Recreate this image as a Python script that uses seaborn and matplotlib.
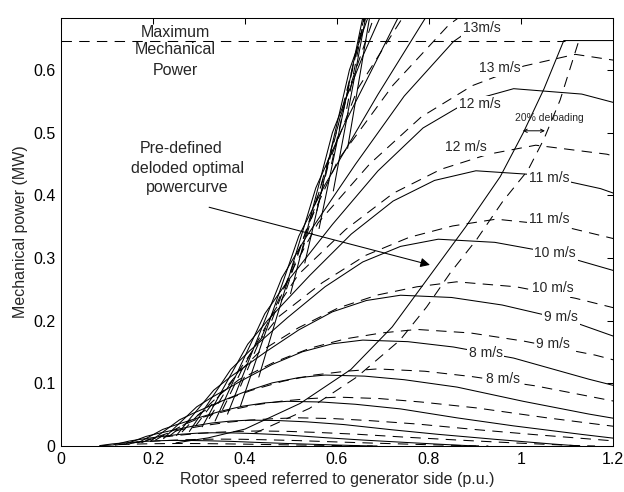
import matplotlib
matplotlib.use("Agg")
import matplotlib.pyplot as plt
import numpy as np
import pandas as pd
import seaborn as sns

# ---------------- data ----------------
# solid curves (wind speed in m/s)
s3_x = [0.084, 0.094, 0.111, 0.123, 0.148, 0.172, 0.197, 0.221, 0.246, 0.283, 0.320, 0.369, 0.431, 0.492, 0.566, 0.640, 0.677]
s3_y = [0.0006, 0.0016, 0.0033, 0.0041, 0.0055, 0.0069, 0.0079, 0.0086, 0.0089, 0.0088, 0.0083, 0.0074, 0.0056, 0.0040, 0.0023, 0.0007, 0.0]
s4_x = [0.112, 0.125, 0.148, 0.164, 0.197, 0.230, 0.262, 0.295, 0.328, 0.377, 0.426, 0.492, 0.574, 0.656, 0.754, 0.853, 0.902]
s4_y = [0.0015, 0.0038, 0.0078, 0.0097, 0.0131, 0.0163, 0.0188, 0.0204, 0.0211, 0.0208, 0.0197, 0.0175, 0.0133, 0.0095, 0.0055, 0.0017, 0.0]
s5_x = [0.139, 0.156, 0.185, 0.205, 0.246, 0.287, 0.328, 0.369, 0.410, 0.472, 0.533, 0.615, 0.718, 0.820, 0.943, 1.066, 1.128]
s5_y = [0.0029, 0.0074, 0.0153, 0.0190, 0.0256, 0.0318, 0.0367, 0.0398, 0.0413, 0.0406, 0.0386, 0.0342, 0.0260, 0.0186, 0.0107, 0.0033, 0.0]
s6_x = [0.167, 0.187, 0.221, 0.246, 0.295, 0.344, 0.394, 0.443, 0.492, 0.566, 0.640, 0.738, 0.861, 0.984, 1.132, 1.279]
s6_y = [0.0050, 0.0128, 0.0264, 0.0328, 0.0442, 0.0549, 0.0634, 0.0688, 0.0713, 0.0702, 0.0666, 0.0592, 0.0449, 0.0321, 0.0185, 0.0057]
s7_x = [0.195, 0.218, 0.258, 0.287, 0.344, 0.402, 0.459, 0.517, 0.574, 0.660, 0.746, 0.861, 1.005, 1.148, 1.320]
s7_y = [0.0079, 0.0204, 0.0419, 0.0521, 0.0702, 0.0872, 0.1007, 0.1092, 0.1132, 0.1115, 0.1058, 0.0940, 0.0713, 0.0509, 0.0294]
s8_x = [0.223, 0.249, 0.295, 0.328, 0.394, 0.459, 0.525, 0.590, 0.656, 0.754, 0.853, 0.984, 1.148, 1.312]
s8_y = [0.0118, 0.0304, 0.0625, 0.0777, 0.1048, 0.1301, 0.1504, 0.1631, 0.1690, 0.1665, 0.1580, 0.1403, 0.1065, 0.0761]
s9_x = [0.251, 0.280, 0.332, 0.369, 0.443, 0.517, 0.590, 0.664, 0.738, 0.849, 0.959, 1.107, 1.292]
s9_y = [0.0168, 0.0433, 0.0890, 0.1107, 0.1492, 0.1853, 0.2141, 0.2322, 0.2406, 0.2370, 0.2250, 0.1997, 0.1516]
s10_x = [0.279, 0.312, 0.369, 0.410, 0.492, 0.574, 0.656, 0.738, 0.820, 0.943, 1.066, 1.230]
s10_y = [0.0231, 0.0594, 0.1221, 0.1518, 0.2046, 0.2541, 0.2937, 0.3185, 0.3300, 0.3250, 0.3086, 0.2739]
s11_x = [0.307, 0.343, 0.406, 0.451, 0.541, 0.631, 0.722, 0.812, 0.902, 1.037, 1.173, 1.353]
s11_y = [0.0307, 0.0791, 0.1625, 0.2020, 0.2723, 0.3382, 0.3909, 0.4238, 0.4392, 0.4326, 0.4107, 0.3645]
s12_x = [0.335, 0.374, 0.443, 0.492, 0.590, 0.689, 0.787, 0.886, 0.984, 1.132, 1.279]
s12_y = [0.0399, 0.1026, 0.2110, 0.2623, 0.3535, 0.4390, 0.5075, 0.5502, 0.5702, 0.5616, 0.5331]
s13_x = [0.362, 0.405, 0.480, 0.533, 0.640, 0.746, 0.853, 0.959, 1.066, 1.226]
s13_y = [0.0508, 0.1305, 0.2683, 0.3335, 0.4495, 0.5583, 0.6453, 0.6996, 0.7250, 0.7141]
s14_x = [0.390, 0.436, 0.517, 0.574, 0.689, 0.804]
s14_y = [0.0634, 0.163, 0.335, 0.417, 0.561, 0.697]
s15_x = [0.430, 0.467, 0.554, 0.615, 0.738, 0.861]
s15_y = [0.110, 0.201, 0.412, 0.512, 0.691, 0.858]
s16_x = [0.499, 0.590, 0.656, 0.787]
s16_y = [0.243, 0.500, 0.622, 0.838]
s17_x = [0.530, 0.627, 0.697]
s17_y = [0.292, 0.600, 0.746]
s18_x = [0.561, 0.664]
s18_y = [0.347, 0.712]
s19_x = [0.592, 0.701]
s19_y = [0.407, 0.837]
s20_x = [0.623, 0.738]
s20_y = [0.475, 0.977]

# dashed curves
d3_x = [0.088, 0.098, 0.116, 0.129, 0.155, 0.181, 0.206, 0.232, 0.258, 0.297, 0.335, 0.387, 0.452, 0.516, 0.593, 0.671, 0.697]
d3_y = [0.0005, 0.0010, 0.0018, 0.0023, 0.0029, 0.0034, 0.0037, 0.0039, 0.0040, 0.0039, 0.0036, 0.0031, 0.0023, 0.0016, 0.0008, 0.0001, 0.0]
d4_x = [0.117, 0.131, 0.155, 0.172, 0.206, 0.241, 0.275, 0.310, 0.344, 0.396, 0.447, 0.516, 0.602, 0.688, 0.791, 0.894, 0.929]
d4_y = [0.0013, 0.0028, 0.0050, 0.0063, 0.0079, 0.0092, 0.0101, 0.0107, 0.0110, 0.0107, 0.0099, 0.0086, 0.0064, 0.0044, 0.0022, 0.0003, 0.0]
d5_x = [0.146, 0.163, 0.194, 0.215, 0.258, 0.301, 0.344, 0.387, 0.430, 0.495, 0.559, 0.645, 0.753, 0.860, 0.989, 1.118, 1.161]
d5_y = [0.0029, 0.0060, 0.0108, 0.0137, 0.0173, 0.0202, 0.0221, 0.0233, 0.0240, 0.0233, 0.0216, 0.0187, 0.0139, 0.0096, 0.0048, 0.0007, 0.0]
d6_x = [0.175, 0.196, 0.232, 0.258, 0.310, 0.361, 0.413, 0.464, 0.516, 0.593, 0.671, 0.774, 0.903, 1.032, 1.187, 1.342]
d6_y = [0.0054, 0.0113, 0.0203, 0.0257, 0.0324, 0.0378, 0.0414, 0.0437, 0.0450, 0.0437, 0.0405, 0.0351, 0.0261, 0.0180, 0.0090, 0.0014]
d7_x = [0.205, 0.229, 0.271, 0.301, 0.361, 0.421, 0.482, 0.542, 0.602, 0.692, 0.783, 0.903, 1.054, 1.204, 1.385]
d7_y = [0.0094, 0.0195, 0.0351, 0.0445, 0.0562, 0.0655, 0.0718, 0.0757, 0.0780, 0.0757, 0.0702, 0.0608, 0.0452, 0.0312, 0.0156]
d8_x = [0.234, 0.261, 0.310, 0.344, 0.413, 0.482, 0.550, 0.619, 0.688, 0.791, 0.894, 1.032, 1.204, 1.376]
d8_y = [0.0148, 0.0308, 0.0554, 0.0701, 0.0886, 0.1033, 0.1132, 0.1193, 0.1230, 0.1193, 0.1107, 0.0959, 0.0713, 0.0492]
d9_x = [0.263, 0.294, 0.348, 0.387, 0.464, 0.542, 0.619, 0.697, 0.774, 0.890, 1.006, 1.161, 1.355]
d9_y = [0.0223, 0.0465, 0.0837, 0.1060, 0.1339, 0.1562, 0.1711, 0.1804, 0.1860, 0.1804, 0.1674, 0.1451, 0.1079]
d10_x = [0.292, 0.327, 0.387, 0.430, 0.516, 0.602, 0.688, 0.774, 0.860, 0.989, 1.118, 1.290]
d10_y = [0.0314, 0.0655, 0.1179, 0.1493, 0.1886, 0.2201, 0.2410, 0.2541, 0.2620, 0.2541, 0.2358, 0.2044]
d11_x = [0.322, 0.360, 0.426, 0.473, 0.568, 0.662, 0.757, 0.851, 0.946, 1.088, 1.230]
d11_y = [0.0434, 0.0905, 0.1629, 0.2063, 0.2606, 0.3041, 0.3330, 0.3511, 0.3620, 0.3511, 0.3258]
d12_x = [0.351, 0.392, 0.464, 0.516, 0.619, 0.722, 0.826, 0.929, 1.032, 1.187, 1.342]
d12_y = [0.0576, 0.1200, 0.2160, 0.2736, 0.3456, 0.4032, 0.4416, 0.4656, 0.4800, 0.4656, 0.4320]
d13_x = [0.390, 0.425, 0.503, 0.559, 0.671, 0.783, 0.894, 1.006, 1.118, 1.286]
d13_y = [0.0950, 0.1563, 0.2813, 0.3563, 0.4500, 0.5250, 0.5750, 0.6063, 0.6250, 0.6063]
d14_x = [0.458, 0.542, 0.602, 0.722, 0.843, 0.963]
d14_y = [0.200, 0.360, 0.456, 0.576, 0.672, 0.736]
d15_x = [0.490, 0.581, 0.645, 0.774]
d15_y = [0.250, 0.450, 0.570, 0.720]
d16_x = [0.523, 0.619, 0.688]
d16_y = [0.308, 0.554, 0.701]
d17_x = [0.556, 0.658, 0.731]
d17_y = [0.375, 0.675, 0.855]
d18_x = [0.588, 0.697]
d18_y = [0.450, 0.810]
d19_x = [0.621, 0.735]
d19_y = [0.538, 0.968]

# pre-defined deloaded optimal power curves
opt_solid_x = [0.25, 0.32, 0.40, 0.52, 0.63, 0.72, 0.81, 0.88, 0.955, 1.005, 1.05, 1.093, 1.20]
opt_solid_y = [0.005, 0.013, 0.027, 0.068, 0.122, 0.19, 0.28, 0.35, 0.43, 0.50, 0.57, 0.647, 0.647]
opt_dash_x = [0.42, 0.54, 0.643, 0.737, 0.795, 0.846, 0.904, 0.96, 1.015, 1.05, 1.085, 1.125]
opt_dash_y = [0.02, 0.06, 0.11, 0.169, 0.222, 0.276, 0.33, 0.39, 0.44, 0.49, 0.552, 0.645]

p_max = 0.647
p_max_x_end = 1.095

label_text = ["13m/s", "13 m/s", "12 m/s", "12 m/s", "11 m/s", "11 m/s",
              "10 m/s", "10 m/s", "9 m/s", "9 m/s", "8 m/s", "8 m/s"]
label_x = [0.914, 0.953, 0.910, 0.880, 1.061, 1.061, 1.074, 1.070, 1.087, 1.070, 0.923, 0.961]
label_y = [0.667, 0.603, 0.545, 0.477, 0.427, 0.362, 0.308, 0.252, 0.206, 0.163, 0.148, 0.107]

xticks = [0, 0.2, 0.4, 0.6, 0.8, 1.0, 1.2]
xtick_labels = ["0", "0.2", "0.4", "0.6", "0.8", "1", "1.2"]
yticks = [0, 0.1, 0.2, 0.3, 0.4, 0.5, 0.6]
ytick_labels = ["0", "0.1", "0.2", "0.3", "0.4", "0.5", "0.6"]

# ---------------- build table ----------------
solid = {3: (s3_x, s3_y), 4: (s4_x, s4_y), 5: (s5_x, s5_y), 6: (s6_x, s6_y),
         7: (s7_x, s7_y), 8: (s8_x, s8_y), 9: (s9_x, s9_y), 10: (s10_x, s10_y),
         11: (s11_x, s11_y), 12: (s12_x, s12_y), 13: (s13_x, s13_y), 14: (s14_x, s14_y),
         15: (s15_x, s15_y), 16: (s16_x, s16_y), 17: (s17_x, s17_y), 18: (s18_x, s18_y),
         19: (s19_x, s19_y), 20: (s20_x, s20_y)}
dashed = {3: (d3_x, d3_y), 4: (d4_x, d4_y), 5: (d5_x, d5_y), 6: (d6_x, d6_y),
          7: (d7_x, d7_y), 8: (d8_x, d8_y), 9: (d9_x, d9_y), 10: (d10_x, d10_y),
          11: (d11_x, d11_y), 12: (d12_x, d12_y), 13: (d13_x, d13_y), 14: (d14_x, d14_y),
          15: (d15_x, d15_y), 16: (d16_x, d16_y), 17: (d17_x, d17_y), 18: (d18_x, d18_y),
          19: (d19_x, d19_y)}

rows = []
for v, (xs, ys) in solid.items():
    for i, (a, b) in enumerate(zip(xs, ys)):
        rows.append(dict(curve=f"s{v}", kind="solid", order=i, x=a, y=b))
for v, (xs, ys) in dashed.items():
    for i, (a, b) in enumerate(zip(xs, ys)):
        rows.append(dict(curve=f"d{v}", kind="dashed", order=i, x=a, y=b))
for i, (a, b) in enumerate(zip(opt_solid_x, opt_solid_y)):
    rows.append(dict(curve="opt_s", kind="solid", order=i, x=a, y=b))
for i, (a, b) in enumerate(zip(opt_dash_x, opt_dash_y)):
    rows.append(dict(curve="opt_d", kind="dashed", order=i, x=a, y=b))
df = pd.DataFrame(rows)

# ---------------- plot ----------------
sns.set_theme(style="white")
plt.rcParams["font.family"] = ["Liberation Sans", "DejaVu Sans"]

fig = plt.figure(figsize=(6.24, 4.92), dpi=100)
ax = fig.add_axes([61 / 624, 46 / 492, 552 / 624, 428 / 492])

sns.lineplot(data=df, x="x", y="y", units="curve", style="kind",
             dashes={"solid": "", "dashed": (10, 7)}, estimator=None,
             sort=False, color="black", linewidth=0.75, legend=False, ax=ax)

ax.plot([0, p_max_x_end], [p_max, p_max], color="black", lw=0.75,
        linestyle=(0, (10, 7)))

tfs = 11.5
lfs = 10
for t, x, y in zip(label_text, label_x, label_y):
    ax.text(x, y, t, fontsize=lfs, ha="center", va="center", zorder=5,
            bbox=dict(boxstyle="square,pad=0.12", fc="white", ec="none"))

ax.text(1.061, 0.523, "20% deloading", fontsize=7.5, ha="center", va="center", zorder=5)
ax.annotate("", xy=(1.004, 0.503), xytext=(1.052, 0.503),
            arrowprops=dict(arrowstyle="<->", lw=0.7, color="black",
                            mutation_scale=6, shrinkA=0, shrinkB=0))

ax.text(0.248, 0.660, "Maximum", fontsize=tfs, ha="center", va="center")
ax.text(0.248, 0.632, "Mechanical", fontsize=tfs, ha="center", va="center")
ax.text(0.248, 0.600, "Power", fontsize=tfs, ha="center", va="center")

ax.text(0.261, 0.475, "Pre-defined", fontsize=tfs, ha="center", va="center")
ax.text(0.274, 0.443, "deloded optimal", fontsize=tfs, ha="center", va="center")
ax.text(0.274, 0.413, "powercurve", fontsize=tfs, ha="center", va="center")
ax.annotate("", xy=(0.802, 0.289), xytext=(0.322, 0.381),
            arrowprops=dict(arrowstyle="-|>", lw=0.75, color="black",
                            mutation_scale=14, shrinkA=0, shrinkB=0))

ax.set_xlim(0, 1.2)
ax.set_ylim(0, 0.683)
ax.set_xticks(xticks)
ax.set_xticklabels(xtick_labels)
ax.set_yticks(yticks)
ax.set_yticklabels(ytick_labels)
ax.tick_params(direction="in", top=True, right=True, length=4, width=0.75,
               labelsize=tfs, colors="black", pad=4)
for sp in ax.spines.values():
    sp.set_color("black")
    sp.set_linewidth(0.75)
ax.set_xlabel("Rotor speed referred to generator side (p.u.)", fontsize=tfs, labelpad=4)
ax.set_ylabel("Mechanical power (MW)", fontsize=tfs, labelpad=4)

fig.savefig("out.png", dpi=100, facecolor="white")
